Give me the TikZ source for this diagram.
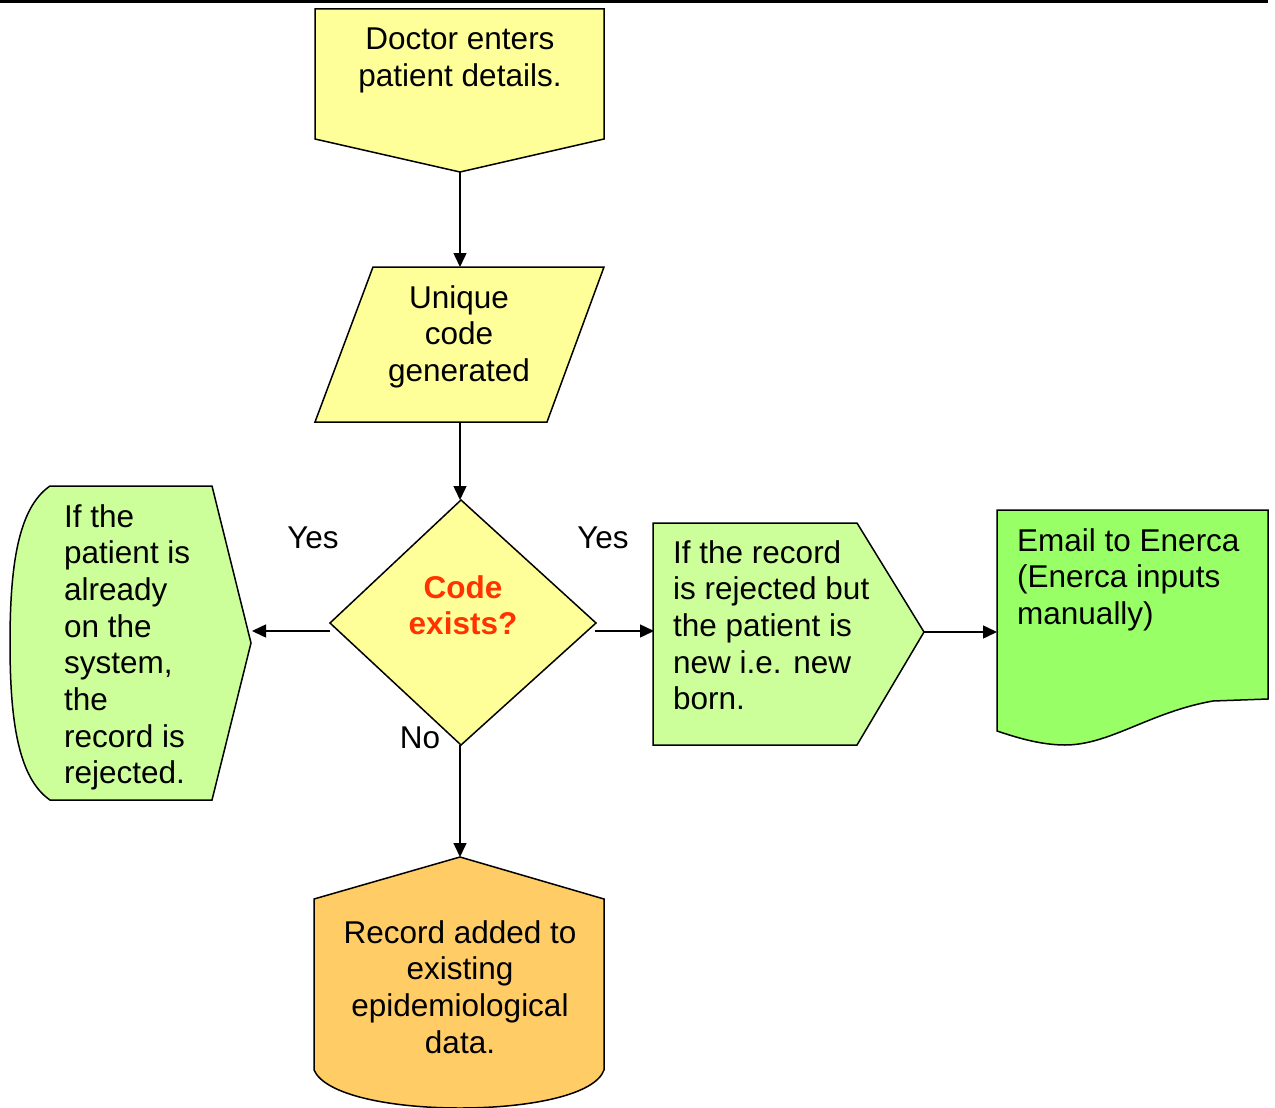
\documentclass[tikz,border=0pt]{standalone}
\usepackage{fontspec}
\setmainfont{Liberation Sans}
\usetikzlibrary{arrows.meta}
\definecolor{yel}{HTML}{FFFF99}
\definecolor{lgreen}{HTML}{CCFF99}
\definecolor{dgreen}{HTML}{99FF66}
\definecolor{orng}{HTML}{FFCC66}
\definecolor{redtxt}{HTML}{FF3300}
\begin{document}
\begin{tikzpicture}[x=1pt,y=-1pt,
  shapeline/.style={draw=black, line width=1.5pt, line join=miter},
  conn/.style={draw=black, line width=1.5pt, -{Triangle[length=14pt,width=13pt]}},
  txt/.style={inner sep=0pt, font=\fontsize{31.5}{36.7}\selectfont, align=center},
  ]
\useasboundingbox (0,0) rectangle (1275,1108);
% top rule
\coordinate (ruleL) at (0,1.3);
\coordinate (ruleR) at (1268,1.3);
\draw[line width=2.6pt] (ruleL) -- (ruleR);

% Doctor (off-page connector)
\filldraw[shapeline, fill=yel] (315,9) -- (604,9) -- (604,139) -- (460,172) -- (315,139) -- cycle;
\coordinate (docOut) at (460,172);
\node[txt, anchor=north] (tdoc) at (460,28) {Doctor enters\\patient details.};

% Unique code (parallelogram)
\filldraw[shapeline, fill=yel] (373,267) -- (604,267) -- (547,422) -- (315,422) -- cycle;
\coordinate (uniIn) at (460,267);
\coordinate (uniOut) at (460,422);
\node[txt, anchor=north] (tuni) at (459,285) {Unique\\code\\generated};

% Decision diamond
\filldraw[shapeline, fill=yel] (461,500) -- (596,623) -- (461,745) -- (330,623) -- cycle;
\coordinate (diaTop) at (460,500);
\coordinate (diaLeft) at (330,631);
\coordinate (diaRight) at (595,631);
\coordinate (diaBot) at (460,745);
\node[txt, anchor=north, font={\fontsize{31.5}{36.7}\selectfont\bfseries}, text=redtxt] (tdia) at (463,575) {Code\\exists?};

% Left shape (stored data style)
\filldraw[shapeline, fill=lgreen] (50,486) -- (212,486) -- (251,643) -- (212,800) -- (50,800)
  .. controls (18,778) and (10,720) .. (10,643)
  .. controls (10,566) and (18,508) .. (50,486) -- cycle;
\coordinate (leftIn) at (252,631);
\node[txt, anchor=north west, align=left] (tleft) at (64,504) {If the\\patient is\\already\\on the\\system,\\the\\record is\\rejected.};

% Right pentagon
\filldraw[shapeline, fill=lgreen] (653,523) -- (857,523) -- (924,632) -- (857,745) -- (653,745) -- cycle;
\coordinate (pentIn) at (654,631);
\coordinate (pentOut) at (924,632);
\node[txt, anchor=north west, align=left] (tright) at (673,540) {If the record\\is rejected but\\the patient is\\new i.e. new\\born.};

% Document
\filldraw[shapeline, fill=dgreen] (997,510) -- (1268,510) -- (1268,699) -- (1213,701)
  .. controls (1150,712) and (1110,745) .. (1065,745)
  .. controls (1040,745) and (1015,737) .. (997,731) -- cycle;
\coordinate (emailIn) at (997,632);
\node[txt, anchor=north west, align=left] (temail) at (1017,528) {Email to Enerca\\(Enerca inputs\\manually)};

% Bottom shape
\filldraw[shapeline, fill=orng] (460,857) -- (604,899) -- (604,1070)
  .. controls (595,1095) and (530,1108) .. (460,1108)
  .. controls (390,1108) and (325,1095) .. (314,1070) -- (314,899) -- cycle;
\coordinate (recIn) at (460,857);
\node[txt, anchor=north] (trec) at (460,920) {Record added to\\existing\\epidemiological\\data.};

% labels
\node[txt, anchor=north] (yesL) at (313,527) {Yes};
\node[txt, anchor=north] (yesR) at (603,527) {Yes};
\node[txt, anchor=north] (noB) at (420,727) {No};

% connectors
\draw[conn] (docOut) -- (uniIn);
\draw[conn] (uniOut) -- (diaTop);
\draw[conn] (diaLeft) -- (leftIn);
\draw[conn] (diaRight) -- (pentIn);
\draw[conn] (pentOut) -- (emailIn);
\draw[conn] (diaBot) -- (recIn);
\end{tikzpicture}
\end{document}
